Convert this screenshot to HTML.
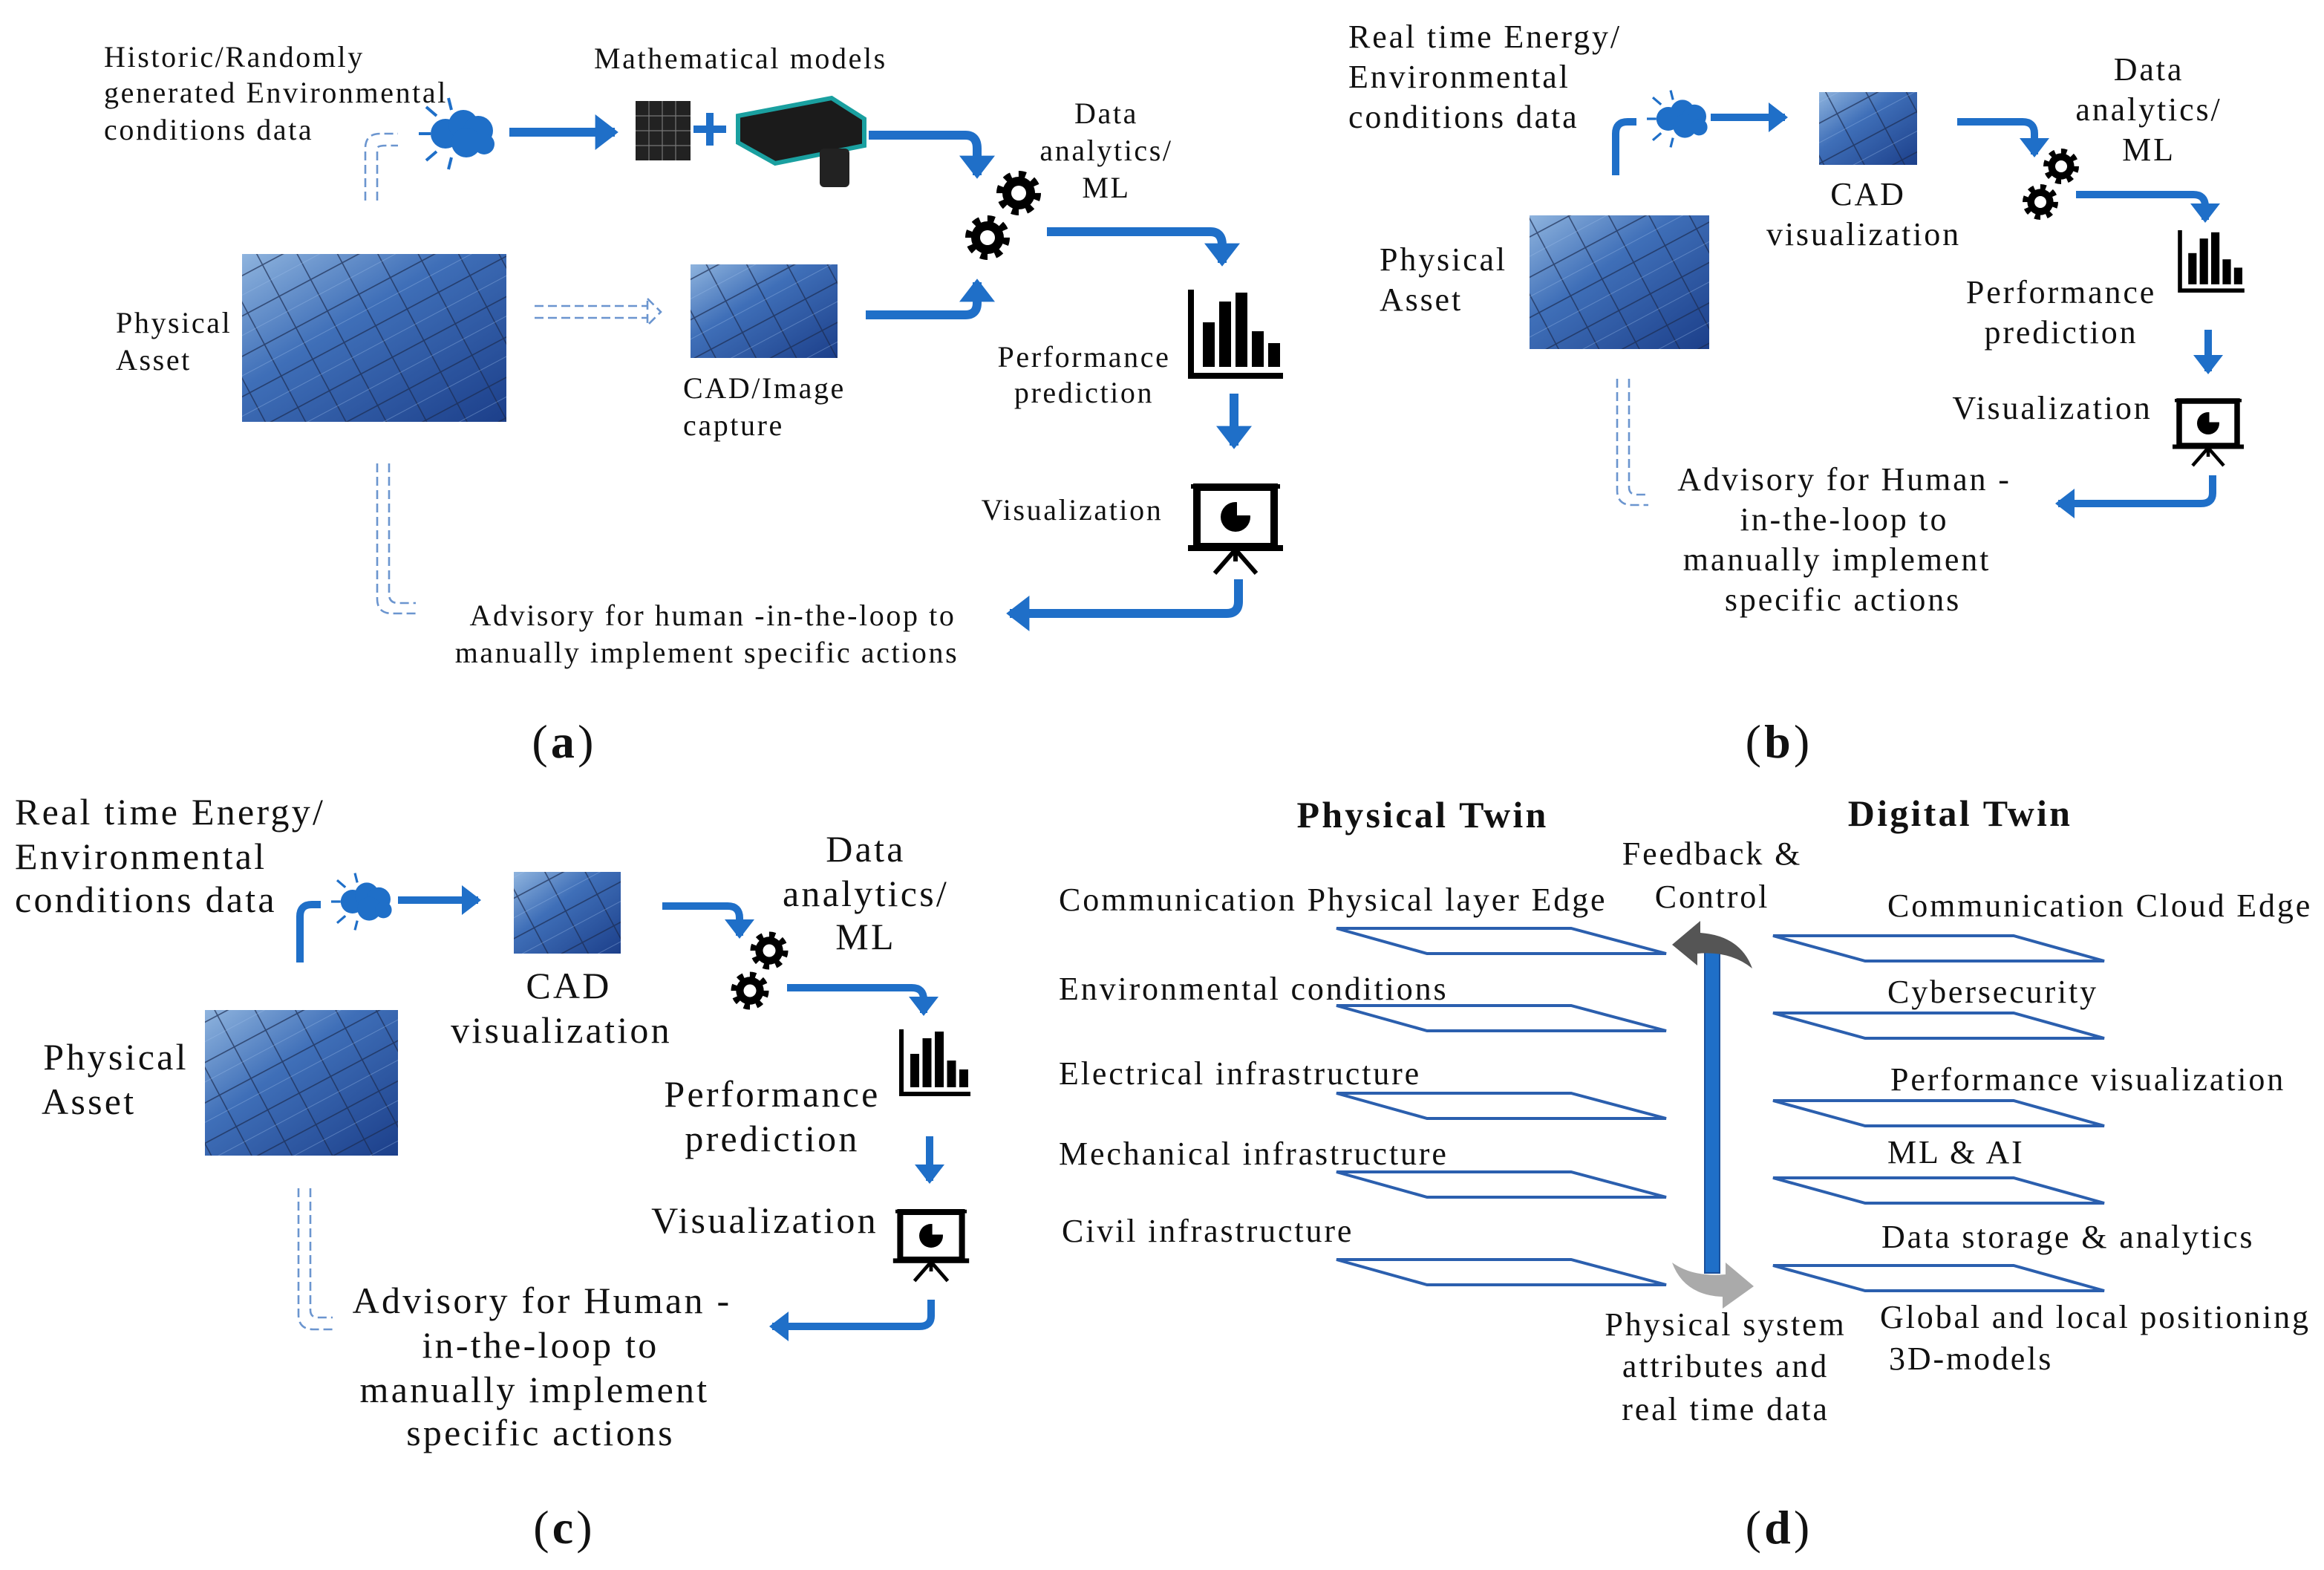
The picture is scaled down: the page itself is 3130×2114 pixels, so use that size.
<!DOCTYPE html>
<html><head><meta charset="utf-8"><style>
html,body{margin:0;padding:0;background:#fff}
svg{display:block}
text{font-family:"Liberation Serif",serif;fill:#111;letter-spacing:0.065em}
</style></head><body>
<svg width="3130" height="2114" viewBox="0 0 1565 1057" xmlns="http://www.w3.org/2000/svg">
<defs>
<marker id="ah" markerWidth="4" markerHeight="4" refX="2.2" refY="2" orient="auto" markerUnits="strokeWidth"><path d="M0,0 L2.6,2 L0,4 z" fill="#1f6fc8"/></marker>
<linearGradient id="sg" x1="0" y1="0" x2="1" y2="1"><stop offset="0" stop-color="#8fb4de"/><stop offset="0.4" stop-color="#3f6fb8"/><stop offset="1" stop-color="#1c3f8a"/></linearGradient>
<pattern id="grid" width="24" height="24" patternUnits="userSpaceOnUse" patternTransform="rotate(-28)"><rect width="24" height="24" fill="none"/><path d="M0,0 H24 M0,0 V24" stroke="#1a2a50" stroke-width="1.6" opacity="0.7"/><path d="M0,12 H24" stroke="#9fc0ea" stroke-width="0.4" opacity="0.5"/></pattern>
<g id="gear"><circle r="12" fill="none" stroke="#000" stroke-width="6" stroke-dasharray="4.5 4.9"/><circle r="11" fill="#000"/><circle r="5" fill="#fff"/></g>
<g id="bars"><path d="M0,0 V58 H62" stroke="#000" stroke-width="4" fill="none"/><rect x="8" y="22" width="8" height="30"/><rect x="19" y="8" width="8" height="44"/><rect x="30" y="2" width="8" height="50"/><rect x="41" y="28" width="8" height="24"/><rect x="52" y="36" width="8" height="16"/></g>
<g id="viz"><rect x="-30" y="-22" width="60" height="3" fill="#000"/><rect x="-26" y="-20" width="52" height="40" fill="#fff" stroke="#000" stroke-width="5"/><rect x="-32" y="19" width="64" height="4" fill="#000"/><path d="M0,20 V30 M0,22 L-14,38 M0,22 L14,38" stroke="#000" stroke-width="3"/><circle cx="0" cy="0" r="10" fill="#000"/><path d="M1,-1 V-11 A10,10 0 0,1 11,-1 Z" fill="#fff"/></g>
<g id="cloud"><g stroke="#1f6fc8" stroke-width="2"><path d="M-22,0 H-30 M-18,-12 L-25,-18 M-18,12 L-25,18 M-8,-16 L-10,-24 M-8,16 L-10,24"/></g><circle cx="-12" cy="0" r="10" fill="#1f6fc8"/><circle cx="0" cy="-6" r="10" fill="#1f6fc8"/><circle cx="10" cy="-2" r="10" fill="#1f6fc8"/><circle cx="2" cy="6" r="10" fill="#1f6fc8"/><circle cx="14" cy="7" r="7" fill="#1f6fc8"/></g>
<clipPath id="c1"><rect x="163" y="171" width="178" height="113"/></clipPath>
<clipPath id="c2"><rect x="465" y="178" width="99" height="63"/></clipPath>
<clipPath id="c3"><rect x="1225" y="62" width="66" height="49"/></clipPath>
<clipPath id="c4"><rect x="1030" y="145" width="121" height="90"/></clipPath>
<clipPath id="c5"><rect x="346" y="587" width="72" height="55"/></clipPath>
<clipPath id="c6"><rect x="138" y="680" width="130" height="98"/></clipPath>
</defs>

<g clip-path="url(#c1)"><rect x="163" y="171" width="178" height="113" fill="url(#sg)"/><rect x="163" y="171" width="178" height="113" fill="url(#grid)"/></g>
<g clip-path="url(#c2)"><rect x="465" y="178" width="99" height="63" fill="url(#sg)"/><rect x="465" y="178" width="99" height="63" fill="url(#grid)"/></g>
<g clip-path="url(#c3)"><rect x="1225" y="62" width="66" height="49" fill="url(#sg)"/><rect x="1225" y="62" width="66" height="49" fill="url(#grid)"/></g>
<g clip-path="url(#c4)"><rect x="1030" y="145" width="121" height="90" fill="url(#sg)"/><rect x="1030" y="145" width="121" height="90" fill="url(#grid)"/></g>
<g clip-path="url(#c5)"><rect x="346" y="587" width="72" height="55" fill="url(#sg)"/><rect x="346" y="587" width="72" height="55" fill="url(#grid)"/></g>
<g clip-path="url(#c6)"><rect x="138" y="680" width="130" height="98" fill="url(#sg)"/><rect x="138" y="680" width="130" height="98" fill="url(#grid)"/></g>

<!-- ===== (a) ===== -->
<g font-size="20">
<text x="70" y="45">Historic/Randomly</text>
<text x="70" y="69">generated Environmental</text>
<text x="70" y="94">conditions data</text>
<text x="400" y="46">Mathematical models</text>
<text x="745" y="83" text-anchor="middle">Data</text>
<text x="745" y="108" text-anchor="middle">analytics/</text>
<text x="745" y="133" text-anchor="middle">ML</text>
<text x="78" y="224">Physical</text>
<text x="78" y="249">Asset</text>
<text x="460" y="268">CAD/Image</text>
<text x="460" y="293">capture</text>
<text x="730" y="247" text-anchor="middle">Performance</text>
<text x="730" y="271" text-anchor="middle">prediction</text>
<text x="722" y="350" text-anchor="middle">Visualization</text>
<text x="480" y="421" text-anchor="middle">Advisory for human -in-the-loop to</text>
<text x="476" y="446" text-anchor="middle">manually implement specific actions</text>
</g>
<use href="#cloud" x="312" y="90"/>
<g fill="none" stroke="#1f6fc8" stroke-width="6">
<path d="M343,89 H414" marker-end="url(#ah)"/>
<path d="M585,91 H650 Q658,91 658,100 V118" marker-end="url(#ah)"/>
<path d="M583,212 H650 Q658,212 658,204 V190" marker-end="url(#ah)"/>
<path d="M705,156 H815 Q823,156 823,165 V177" marker-end="url(#ah)"/>
<path d="M831,265 V300" marker-end="url(#ah)"/>
<path d="M834,390 V405 Q834,413 826,413 H680" marker-end="url(#ah)"/>
</g>
<rect x="428" y="68" width="37" height="40" fill="#222"/><path d="M428,78 H465 M428,88 H465 M428,98 H465 M437,68 V108 M446,68 V108 M455,68 V108" stroke="#777" stroke-width="0.6"/>
<path d="M478,76 V98 M467,87 H489" stroke="#1f6fc8" stroke-width="5"/>
<path d="M497,78 L560,66 L582,80 L582,98 L522,110 L497,96 Z" fill="#1b1b1b" stroke="#1aa0a0" stroke-width="3"/>
<rect x="552" y="100" width="20" height="26" rx="3" fill="#222"/>
<use href="#gear" x="686" y="130"/><use href="#gear" x="665" y="160"/>
<use href="#bars" x="802" y="195"/>
<use href="#viz" x="832" y="348"/>
<g fill="none" stroke="#6b95cf" stroke-width="1.3">
<path d="M360,206 H436 M360,214 H436 M436,201 L445,210 L436,219 Z" stroke-dasharray="6 3"/>
<path d="M246,135 V100 Q246,90 256,90 H268 M254,135 V100 Q254,98 260,98 H268" stroke-dasharray="6 3"/>
<path d="M254,312 V403 Q254,413 264,413 H280 M262,312 V400 Q262,406 268,406 H280" stroke-dasharray="6 3"/>
</g>
<text x="380" y="510" font-size="32" text-anchor="middle">(<tspan font-weight="bold">a</tspan>)</text>

<!-- ===== (b) ===== -->
<g font-size="22">
<text x="908" y="32">Real time Energy/</text>
<text x="908" y="59">Environmental</text>
<text x="908" y="86">conditions data</text>
<text x="1258" y="138" text-anchor="middle">CAD</text>
<text x="1255" y="165" text-anchor="middle">visualization</text>
<text x="1447" y="54" text-anchor="middle">Data</text>
<text x="1447" y="81" text-anchor="middle">analytics/</text>
<text x="1447" y="108" text-anchor="middle">ML</text>
<text x="972" y="182" text-anchor="middle">Physical</text>
<text x="957" y="209" text-anchor="middle">Asset</text>
<text x="1388" y="204" text-anchor="middle">Performance</text>
<text x="1388" y="231" text-anchor="middle">prediction</text>
<text x="1382" y="282" text-anchor="middle">Visualization</text>
<text x="1242" y="330" text-anchor="middle">Advisory for Human -</text>
<text x="1242" y="357" text-anchor="middle">in-the-loop to</text>
<text x="1237" y="384" text-anchor="middle">manually implement</text>
<text x="1241" y="411" text-anchor="middle">specific actions</text>
</g>
<use href="#cloud" x="1133" y="80" transform="translate(1133 80) scale(0.8) translate(-1133 -80)"/>
<g fill="none" stroke="#1f6fc8" stroke-width="5">
<path d="M1088,118 V90 Q1088,82 1096,82 H1102"/>
<path d="M1152,79 H1202" marker-end="url(#ah)"/>
<path d="M1318,82 H1362 Q1370,82 1370,90 V104" marker-end="url(#ah)"/>
<path d="M1398,131 H1477 Q1485,131 1485,139 V148" marker-end="url(#ah)"/>
<path d="M1487,222 V250" marker-end="url(#ah)"/>
<path d="M1490,320 V332 Q1490,339 1482,339 H1386" marker-end="url(#ah)"/>
</g>
<use href="#gear" x="1388" y="112" transform="translate(1388 112) scale(0.8) translate(-1388 -112)"/>
<use href="#gear" x="1374" y="136" transform="translate(1374 136) scale(0.8) translate(-1374 -136)"/>
<use href="#bars" x="1468" y="155" transform="translate(1468 155) scale(0.7) translate(-1468 -155)"/>
<use href="#viz" x="1487" y="285" transform="translate(1487 285) scale(0.75) translate(-1487 -285)"/>
<g fill="none" stroke="#6b95cf" stroke-width="1.3" stroke-dasharray="6 3">
<path d="M1089,255 V330 Q1089,340 1099,340 H1110 M1097,255 V328 Q1097,333 1102,333 H1110"/>
</g>
<text x="1198" y="510" font-size="32" text-anchor="middle">(<tspan font-weight="bold">b</tspan>)</text>

<!-- ===== (c) ===== -->
<g font-size="25">
<text x="10" y="555">Real time Energy/</text>
<text x="10" y="585">Environmental</text>
<text x="10" y="614">conditions data</text>
<text x="383" y="672" text-anchor="middle">CAD</text>
<text x="378" y="702" text-anchor="middle">visualization</text>
<text x="583" y="580" text-anchor="middle">Data</text>
<text x="583" y="610" text-anchor="middle">analytics/</text>
<text x="583" y="639" text-anchor="middle">ML</text>
<text x="78" y="720" text-anchor="middle">Physical</text>
<text x="28" y="750">Asset</text>
<text x="520" y="745" text-anchor="middle">Performance</text>
<text x="520" y="775" text-anchor="middle">prediction</text>
<text x="515" y="830" text-anchor="middle">Visualization</text>
<text x="365" y="884" text-anchor="middle">Advisory for Human -</text>
<text x="364" y="914" text-anchor="middle">in-the-loop to</text>
<text x="360" y="944" text-anchor="middle">manually implement</text>
<text x="364" y="973" text-anchor="middle">specific actions</text>
</g>
<use href="#cloud" x="247" y="607" transform="translate(247 607) scale(0.8) translate(-247 -607)"/>
<g fill="none" stroke="#1f6fc8" stroke-width="5">
<path d="M202,648 V617 Q202,609 210,609 H216"/>
<path d="M268,606 H322" marker-end="url(#ah)"/>
<path d="M446,610 H490 Q498,610 498,618 V630" marker-end="url(#ah)"/>
<path d="M530,665 H614 Q622,665 622,673 V682" marker-end="url(#ah)"/>
<path d="M626,765 V795" marker-end="url(#ah)"/>
<path d="M627,875 V886 Q627,893 619,893 H520" marker-end="url(#ah)"/>
</g>
<use href="#gear" x="518" y="640" transform="translate(518 640) scale(0.85) translate(-518 -640)"/>
<use href="#gear" x="505" y="667" transform="translate(505 667) scale(0.85) translate(-505 -667)"/>
<use href="#bars" x="607" y="693" transform="translate(607 693) scale(0.75) translate(-607 -693)"/>
<use href="#viz" x="627" y="832" transform="translate(627 832) scale(0.8) translate(-627 -832)"/>
<g fill="none" stroke="#6b95cf" stroke-width="1.3" stroke-dasharray="6 3">
<path d="M201,800 V885 Q201,895 211,895 H224 M209,800 V882 Q209,887 214,887 H224"/>
</g>
<text x="380" y="1039" font-size="32" text-anchor="middle">(<tspan font-weight="bold">c</tspan>)</text>

<!-- ===== (d) ===== -->
<text x="958" y="557" font-size="25" font-weight="bold" text-anchor="middle">Physical Twin</text>
<text x="1320" y="556" font-size="25" font-weight="bold" text-anchor="middle">Digital Twin</text>
<g font-size="22">
<text x="1153" y="582" text-anchor="middle">Feedback &amp;</text>
<text x="1153" y="611" text-anchor="middle">Control</text>
<text x="713" y="613">Communication Physical layer Edge</text>
<text x="713" y="673">Environmental conditions</text>
<text x="713" y="730">Electrical infrastructure</text>
<text x="713" y="784">Mechanical infrastructure</text>
<text x="715" y="836">Civil infrastructure</text>
<text x="1271" y="617">Communication Cloud Edge</text>
<text x="1271" y="675">Cybersecurity</text>
<text x="1273" y="734">Performance visualization</text>
<text x="1271" y="783">ML &amp; AI</text>
<text x="1267" y="840">Data storage &amp; analytics</text>
<text x="1266" y="894">Global and local positioning</text>
<text x="1272" y="922">3D-models</text>
<text x="1162" y="899" text-anchor="middle">Physical system</text>
<text x="1162" y="927" text-anchor="middle">attributes and</text>
<text x="1162" y="956" text-anchor="middle">real time data</text>
</g>
<g fill="none" stroke="#2b5fae" stroke-width="2">
<path d="M900,625 H1058 L1122,642 H961 Z"/>
<path d="M900,677 H1058 L1122,694 H961 Z"/>
<path d="M900,736 H1058 L1122,753 H961 Z"/>
<path d="M900,789 H1058 L1122,806 H961 Z"/>
<path d="M900,848 H1058 L1122,865 H961 Z"/>
<path d="M1194,630 H1356 L1417,647 H1256 Z"/>
<path d="M1194,682 H1356 L1417,699 H1256 Z"/>
<path d="M1194,741 H1356 L1417,758 H1256 Z"/>
<path d="M1194,793 H1356 L1417,810 H1256 Z"/>
<path d="M1194,852 H1356 L1417,869 H1256 Z"/>
</g>
<rect x="1148" y="641" width="10" height="216" fill="#1f6fc8" stroke="#1a4f9a" stroke-width="1"/>
<path d="M1180,652 Q1172,630 1145,628 L1145,620 L1126,636 L1143,650 L1143,642 Q1165,640 1180,652 Z" fill="#555"/>
<path d="M1126,850 Q1134,872 1160,873 L1160,881 L1181,866 L1162,850 L1162,858 Q1140,860 1126,850 Z" fill="#aaa"/>
<text x="1198" y="1039" font-size="32" text-anchor="middle">(<tspan font-weight="bold">d</tspan>)</text>
</svg>
</body></html>
